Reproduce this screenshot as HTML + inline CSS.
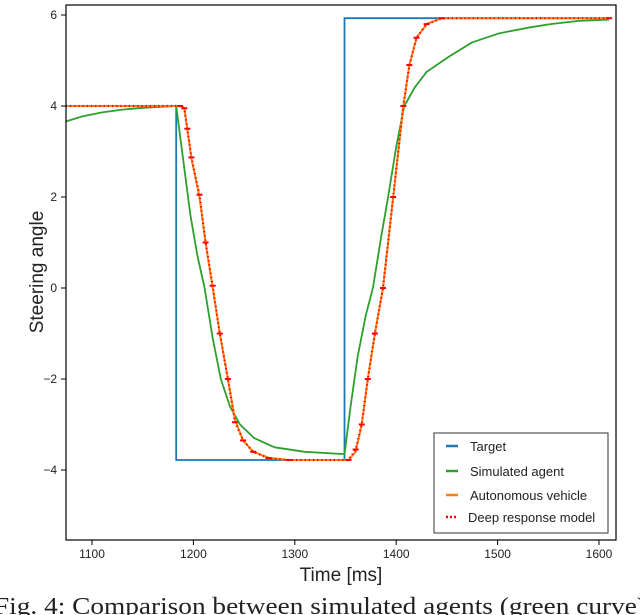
<!DOCTYPE html>
<html><head><meta charset="utf-8"><style>
body{margin:0;background:#fff;width:640px;height:615px;overflow:hidden}
svg{display:block}
text{font-family:"Liberation Sans",sans-serif;fill:#222}
</style></head><body>
<svg id="chart" width="640" height="615">
<defs><clipPath id="clip"><rect x="66" y="5" width="550" height="535"/></clipPath></defs>
<rect x="66" y="5" width="550" height="535" fill="#fff"/>
<g id="series" clip-path="url(#clip)"></g>
<rect x="66" y="5" width="550" height="535" fill="none" stroke="#000" stroke-width="1.2"/>
<g id="xticks"></g>
<g id="yticks"></g>
<text x="341" y="581" font-size="19" text-anchor="middle">Time [ms]</text>
<text transform="translate(43,272) rotate(-90)" font-size="19" text-anchor="middle">Steering angle</text>
<g>
<rect x="434" y="433" width="174" height="100" fill="#fff" stroke="#333" stroke-width="1"/>
<line x1="446" y1="446" x2="458" y2="446" stroke="#1f77b4" stroke-width="2.5"/>
<text x="470" y="451" font-size="13">Target</text>
<line x1="446" y1="471" x2="458" y2="471" stroke="#2ca02c" stroke-width="2.5"/>
<text x="470" y="476" font-size="13">Simulated agent</text>
<line x1="446" y1="495" x2="458" y2="495" stroke="#ff7f0e" stroke-width="2.5"/>
<text x="470" y="500" font-size="13">Autonomous vehicle</text>
<line x1="446" y1="517" x2="458" y2="517" stroke="red" stroke-width="2.5" stroke-dasharray="2,2"/>
<text x="468" y="522" font-size="13">Deep response model</text>
</g>
<text x="-6" y="614" font-size="24" textLength="652" lengthAdjust="spacingAndGlyphs" style='font-family:"Liberation Serif",serif'>Fig. 4: Comparison between simulated agents (green curve)</text>
</svg>
<script>
const xTicks=[1100,1200,1300,1400,1500,1600];
const yTicks=[-4,-2,0,2,4,6];
const targetT=[1070,1183,1183,1349,1349,1610];
const targetV=[4,4,-3.78,-3.78,5.93,5.93];
const simT=[1070,1090,1110,1130,1150,1183,1190,1197,1204,1211,1219,1227,1236,1246,1260,1280,1310,1349,1355,1362,1370,1377,1385,1392,1400,1408,1418,1430,1453,1475,1502,1530,1552,1580,1610];
const simV=[3.63,3.77,3.86,3.92,3.96,4.0,2.8,1.6,0.7,0,-1.1,-2.0,-2.6,-3.0,-3.3,-3.5,-3.6,-3.65,-2.6,-1.5,-0.6,0,1.1,2,3.1,4,4.4,4.75,5.1,5.4,5.6,5.72,5.8,5.87,5.9];
const autoT=[1070,1187,1191,1194,1198,1206,1212,1219,1226,1234,1241,1249,1259,1274,1294,1353,1360,1366,1372,1379,1387,1397,1407,1413,1420,1430,1445,1610];
const autoV=[4,4,3.95,3.5,2.85,2.0,1.0,0,-1.0,-2.0,-2.9,-3.35,-3.6,-3.73,-3.78,-3.78,-3.6,-3.0,-2.0,-1.0,0,2,4,4.9,5.5,5.8,5.93,5.93];
const deepT=[1070,1187,1191,1194,1198,1206,1212,1219,1226,1234,1241,1249,1259,1274,1294,1353,1360,1366,1372,1379,1387,1397,1407,1413,1420,1430,1445,1610];
const deepV=[4,4,3.95,3.5,2.87,2.05,1.0,0.05,-1.0,-2.0,-2.95,-3.35,-3.6,-3.74,-3.78,-3.78,-3.55,-3.0,-2.0,-1.0,0,2,4,4.9,5.5,5.8,5.93,5.93];
const NS="http://www.w3.org/2000/svg";
function xs(t){return 92+(t-1100)*1.014;}
function ys(v){return 288-v*45.5;}
function mk(tag,attrs,parent){const e=document.createElementNS(NS,tag);for(const k in attrs)e.setAttribute(k,attrs[k]);parent.appendChild(e);return e;}
const xg=document.getElementById('xticks'),yg=document.getElementById('yticks'),sg=document.getElementById('series');
xTicks.forEach(t=>{
 const l=mk('line',{x1:xs(t),x2:xs(t),y1:540,y2:545,stroke:'#000'},xg);
 
 
 const tx=mk('text',{x:xs(t),y:558,'font-size':12,'text-anchor':'middle'},xg);tx.textContent=t;
 
 
});
yTicks.forEach(v=>{
 const l=mk('line',{x1:61,x2:66,y1:ys(v),y2:ys(v),stroke:'#000'},yg);
 
 
 const tx=mk('text',{x:57,y:ys(v)+4,'font-size':12,'text-anchor':'end'},yg);tx.textContent=(v<0?'\u2212'+(-v):v);
 
 
});
function pts(T,V){return T.map((t,i)=>xs(t).toFixed(1)+','+ys(V[i]).toFixed(1)).join(' ');}
const p1=mk('polyline',{points:pts(targetT,targetV),fill:'none',stroke:'#1f77b4','stroke-width':1.8},sg);


const p2=mk('polyline',{points:pts(simT,simV),fill:'none',stroke:'#2ca02c','stroke-width':1.8,'stroke-linejoin':'round'},sg);


const p3=mk('polyline',{points:pts(autoT,autoV),fill:'none',stroke:'#ff7f0e','stroke-width':2,'stroke-linejoin':'round'},sg);


const p4=mk('polyline',{points:pts(deepT,deepV),fill:'none',stroke:'red','stroke-width':2.2,'stroke-dasharray':'1.2,3'},sg);


deepT.forEach((t,i)=>{
 const d=mk('line',{x1:xs(t)-3,x2:xs(t)+3,y1:ys(deepV[i]),y2:ys(deepV[i]),stroke:'red','stroke-width':2},sg);
 
 
});
</script>
</body></html>
